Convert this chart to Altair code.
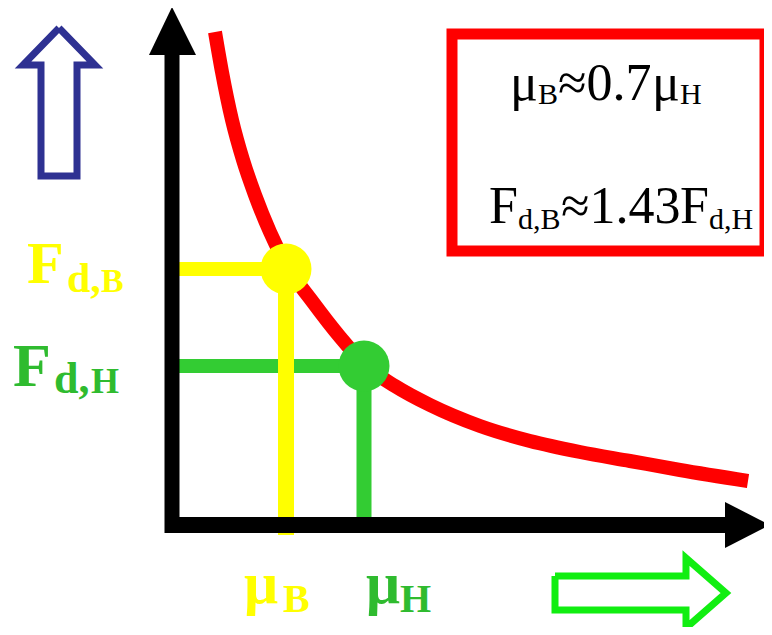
import altair as alt
import pandas as pd

# ---------------- data (diagram coordinates, y grows downward as in the picture) -------------
curve_x = [215, 222, 232, 243, 255, 270, 287, 312, 340, 365, 395, 430, 480, 530, 580, 630, 680, 748]
curve_y = [32, 72, 120, 160, 195, 232, 266, 301, 337, 365, 386, 405, 426, 441, 452, 461, 470, 481]

mu_B, F_dB = 286, 269
mu_H, F_dH = 364, 366

origin_x, origin_y = 172, 525

# ---------------- helpers ----------------
X_SCALE = alt.Scale(domain=[8, 764])
Y_SCALE = alt.Scale(domain=[627, 8])


def X(f="x"):
    return alt.X(f"{f}:Q", scale=X_SCALE, axis=None)


def Y(f="y"):
    return alt.Y(f"{f}:Q", scale=Y_SCALE, axis=None)


RED = "#ff0000"
YEL = "#ffff00"
GRN = "#33cc33"
GRN_T = "#2fbb2f"
BLUE = "#2e3192"
LGRN = "#11ee11"

# red curve
curve = alt.Chart(pd.DataFrame({"x": curve_x, "y": curve_y})).mark_line(
    color=RED, strokeWidth=14, interpolate="monotone", strokeCap="butt"
).encode(x=X(), y=Y())


def hline(y, x1, x2, color, w):
    return alt.Chart(pd.DataFrame({"x": [x1], "x2": [x2], "y": [y]})).mark_rule(
        color=color, strokeWidth=w
    ).encode(x=X(), x2="x2:Q", y=Y())


def vline(x, y1, y2, color, w):
    return alt.Chart(pd.DataFrame({"x": [x], "y": [y1], "y2": [y2]})).mark_rule(
        color=color, strokeWidth=w
    ).encode(x=X(), y=Y(), y2="y2:Q")


def dot(x, y, color):
    return alt.Chart(pd.DataFrame({"x": [x], "y": [y]})).mark_circle(
        color=color, opacity=1, size=2600
    ).encode(x=X(), y=Y())


green_h = hline(F_dH, origin_x, mu_H, GRN, 14)
green_v = vline(mu_H, F_dH, origin_y - 6, GRN, 15)
yellow_h = hline(F_dB, origin_x, mu_B, YEL, 14)
yellow_v = vline(mu_B, F_dB, origin_y + 10, YEL, 16)

# black axes with arrow heads
ax_v = vline(origin_x, origin_y + 8, 55, "black", 15)
ax_h = hline(origin_y, origin_x - 7, 725, "black", 16)
head_up = alt.Chart(pd.DataFrame({"x": [149, origin_x, 196], "y": [55, 7, 55], "y2": [55, 55, 55]})).mark_area(
    color="black", orient="vertical"
).encode(x=X(), y=Y(), y2="y2:Q")
head_right = alt.Chart(pd.DataFrame({"y": [502, origin_y, 548], "x": [725, 770, 725], "x2": [725, 725, 725]})).mark_area(
    color="black", orient="horizontal"
).encode(x=X(), x2="x2:Q", y=Y())

# outline arrows
blue_arrow = alt.Chart(pd.DataFrame({
    "x": [59, 95, 77, 77, 41, 41, 23, 59],
    "y": [28, 65, 65, 176, 176, 65, 65, 28],
    "o": list(range(8)),
})).mark_line(color=BLUE, strokeWidth=7, strokeJoin="miter").encode(x=X(), y=Y(), order="o:Q")

green_arrow = alt.Chart(pd.DataFrame({
    "x": [555, 686, 686, 726, 686, 686, 555, 555],
    "y": [576, 576, 558, 593, 628, 610, 610, 576],
    "o": list(range(8)),
})).mark_line(color=LGRN, strokeWidth=7, strokeJoin="miter").encode(x=X(), y=Y(), order="o:Q")

# red box
box = alt.Chart(pd.DataFrame({"x": [452], "x2": [765], "y": [34], "y2": [251]})).mark_rect(
    fill="white", stroke=RED, strokeWidth=11
).encode(x=X(), x2="x2:Q", y=Y(), y2="y2:Q")


def texts(rows, weight):
    df = pd.DataFrame(rows, columns=["t", "x", "y", "s", "c"])
    return alt.Chart(df).mark_text(
        font="Liberation Serif", fontWeight=weight, align="left", baseline="alphabetic"
    ).encode(
        x=X(), y=Y(), text="t:N",
        size=alt.Size("s:Q", scale=None, legend=None),
        color=alt.Color("c:N", scale=None, legend=None),
    )


bold_labels = texts([
    ("F", 27, 283, 60, YEL), ("d,", 67, 292, 42, YEL), ("B", 101, 292, 34, YEL),
    ("F", 13, 386, 62, GRN_T), ("d,", 54, 393, 44, GRN_T), ("H", 91, 393, 36, GRN_T),
    ("μ", 244, 603, 60, YEL), ("B", 283, 612, 40, YEL),
    ("μ", 366, 603, 60, GRN_T), ("H", 400, 612, 40, GRN_T),
], "bold")

box_text = texts([
    ("μ", 510, 100, 52, "black"), ("B", 538, 104, 30, "black"), ("≈0.7", 558, 100, 52, "black"),
    ("μ", 652, 100, 52, "black"), ("H", 680, 104, 30, "black"),
    ("F", 489, 223, 52, "black"), ("d,B", 518, 229, 30, "black"), ("≈1.43", 561, 223, 52, "black"),
    ("F", 680, 223, 52, "black"), ("d,H", 709, 229, 30, "black"),
], "normal")

chart = alt.layer(
    box, box_text, blue_arrow, green_arrow, curve,
    green_h, green_v, dot(mu_H, F_dH, GRN),
    yellow_h, yellow_v, dot(mu_B, F_dB, YEL),
    ax_v, ax_h, head_up, head_right,
    bold_labels,
).properties(
    width=756, height=619, padding=0, autosize=alt.AutoSizeParams(type="none"), background="white"
).configure_view(stroke=None)

chart.save("out.html", embed_options={"renderer": "svg", "actions": False})
